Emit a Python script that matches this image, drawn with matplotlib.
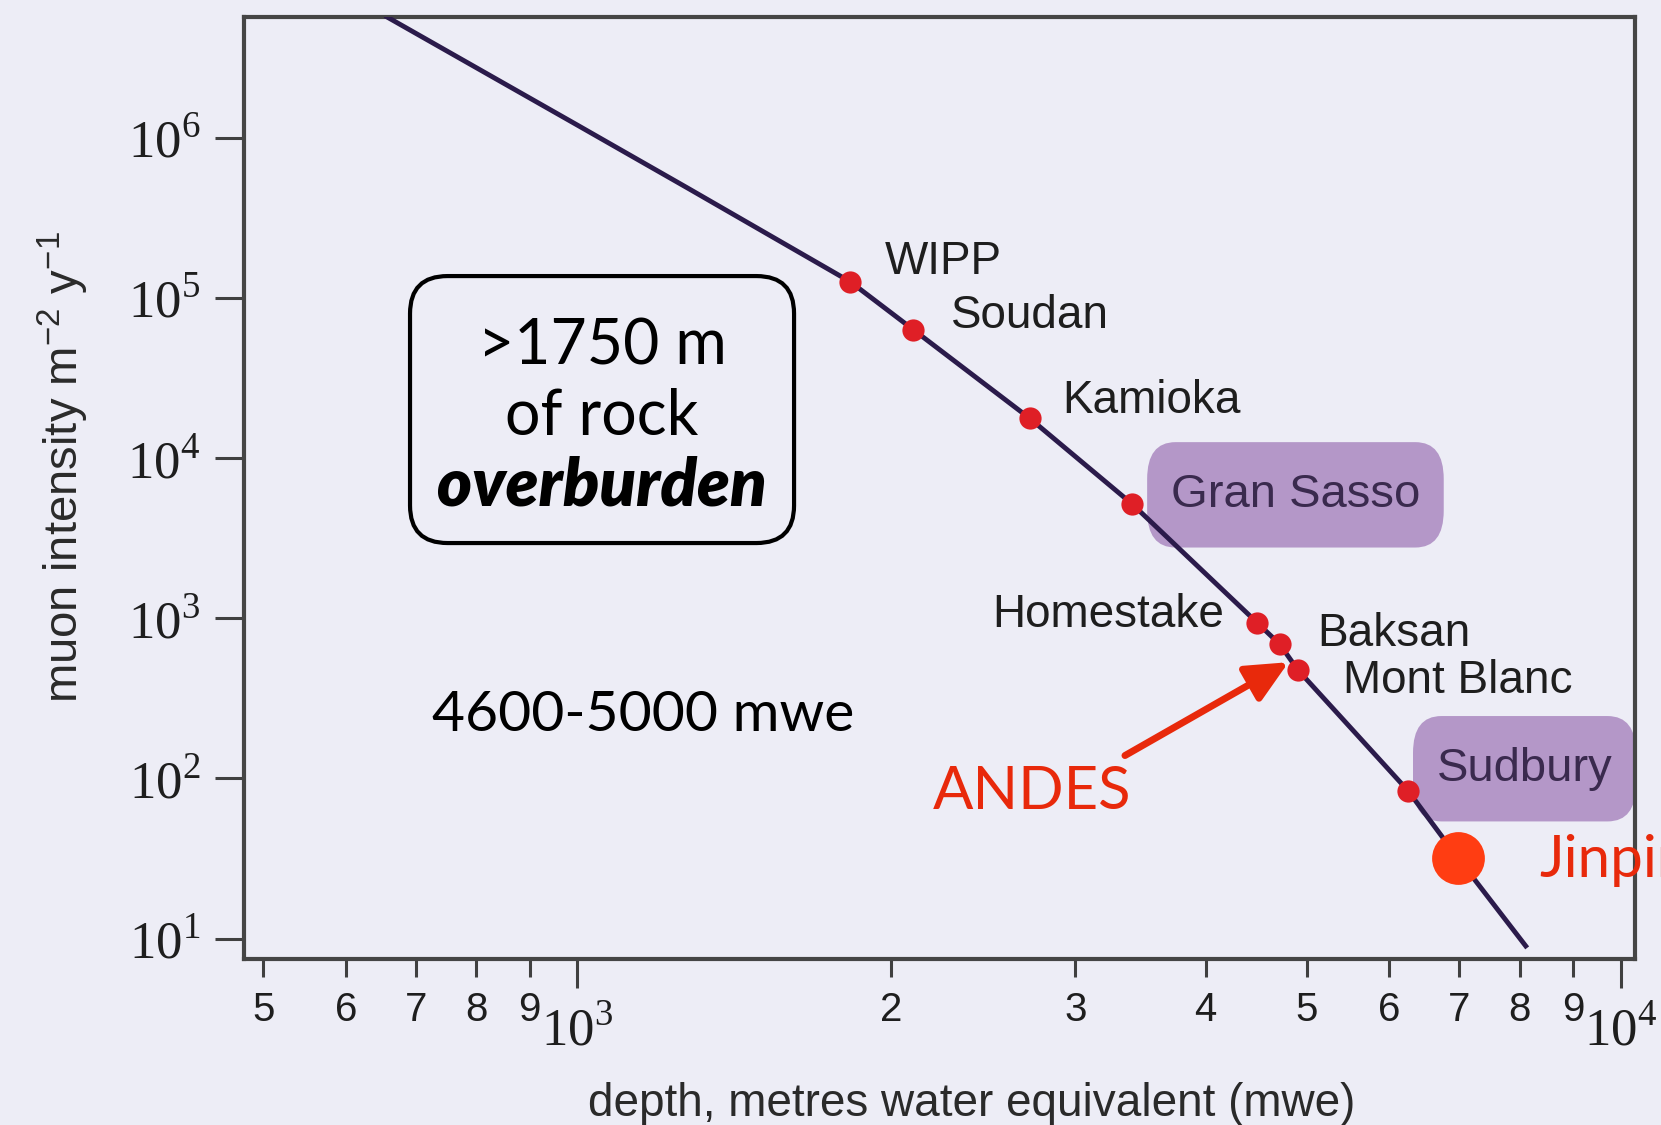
import numpy as np
import matplotlib
matplotlib.use("Agg")
import matplotlib.pyplot as plt
from matplotlib import ticker
from matplotlib.patches import FancyBboxPatch

# depth-intensity curve (mwe, muons m^-2 y^-1)
curve_depth = [657, 1000, 1278, 1827, 2098, 2714, 3404, 4485, 4710, 4901, 6251, 6978, 8107]
curve_intensity = [5.68e6, 1.2e6, 4.82e5, 1.26e5, 6.35e4, 1.77e4, 5150, 935, 690, 478, 84, 32, 9.0]

# underground labs
labs = ["WIPP", "Soudan", "Kamioka", "Gran Sasso", "Homestake", "Baksan", "Mont Blanc", "Sudbury"]
lab_depth = [1827, 2098, 2714, 3404, 4485, 4710, 4901, 6251]
lab_intensity = [1.26e5, 6.35e4, 1.77e4, 5150, 935, 690, 478, 84]
highlighted = ["Gran Sasso", "Sudbury"]

jinping_depth = 6978
jinping_intensity = 32

# label placement (data coords) and alignment
label_x = [1970, 2283, 2917, 3704, 4163, 5113, 5420, 6660]
label_y = [1.68e5, 7.74e4, 2.29e4, 5900, 1056, 803, 405, 115]
label_ha = ["left", "left", "left", "left", "right", "left", "left", "left"]

andes_tip = (4804, 532)
andes_tail = (3348, 139)

BG = "#EDEDF6"
LINE = "#2B1B4B"
RED = "#DF1F26"
ORANGE = "#FF3D12"
TXTRED = "#E8290B"
PURPLE = "#B497C8"

sans = "Liberation Sans"
gill = "Lato"

plt.rcParams["font.family"] = [sans, "DejaVu Sans"]
plt.rcParams["mathtext.fontset"] = "custom"
plt.rcParams["mathtext.rm"] = "Liberation Serif"
plt.rcParams["mathtext.sf"] = sans

fig = plt.figure(figsize=(16.61, 11.25), dpi=100, facecolor=BG)
ax = fig.add_axes([0.1467, 0.1478, 0.8374, 0.8371], facecolor=BG)

ax.set_xscale("log")
ax.set_yscale("log")
ax.set_xlim(478.8, 10309)
ax.set_ylim(7.49, 5.68e6)

# curve and lab markers
ax.plot(curve_depth, curve_intensity, color=LINE, lw=3.5, zorder=3)
ax.plot(lab_depth, lab_intensity, "o", color=RED, ms=16, mec="none", zorder=4)
ax.plot(jinping_depth, jinping_intensity, "o", color=ORANGE, ms=38, mec="none", zorder=5)

for name, tx, ty, ha in zip(labs, label_x, label_y, label_ha):
    if name in highlighted:
        ax.text(tx, ty, name, fontsize=34, color="#3A2A4E", ha=ha, va="center",
                zorder=2, bbox=dict(boxstyle="round,pad=0.5,rounding_size=0.6",
                                    fc=PURPLE, ec="none", mutation_aspect=1.3))
    else:
        ax.text(tx, ty, name, fontsize=33, color="#1E1E1E", ha=ha, va="center", zorder=6)

ax.text(8357, 30.8, "Jinping", fontsize=42, color=TXTRED, family=gill,
        ha="left", va="center", zorder=6)

# ANDES arrow
ax.annotate("", xy=andes_tip, xytext=andes_tail,
            arrowprops=dict(arrowstyle="-|>,head_length=0.85,head_width=0.4",
                            color=TXTRED, lw=5, mutation_scale=30,
                            shrinkA=0, shrinkB=0), zorder=6)
ax.text(2189, 81.8, "ANDES", fontsize=43, color=TXTRED, family=gill,
        ha="left", va="center")

ax.text(726, 248, "4600-5000 mwe", fontsize=41, color="black", family=gill,
        ha="left", va="center")

# overburden box
box = FancyBboxPatch((0.1196, 0.4414), 0.3957 - 0.1196, 0.7249 - 0.4414,
                     boxstyle="round,pad=0,rounding_size=0.027",
                     mutation_aspect=1.477, transform=ax.transAxes,
                     fc="none", ec="black", lw=3, zorder=6)
ax.add_patch(box)
ax.text(0.2576, 0.650, ">1750 m", transform=ax.transAxes, fontsize=45,
        family=gill, ha="center", va="center")
ax.text(0.2576, 0.575, "of rock", transform=ax.transAxes, fontsize=45,
        family=gill, ha="center", va="center")
ax.text(0.2576, 0.502, "overburden", transform=ax.transAxes, fontsize=48,
        family=gill, weight="heavy", style="italic", ha="center", va="center")

# axes styling
def log_fmt(v, pos):
    e = int(np.floor(np.log10(v) + 1e-9))
    m = v / 10 ** e
    if abs(m - 1) < 1e-6:
        return r"$10^{%d}$" % e
    return "%d" % round(m)

ax.xaxis.set_major_locator(ticker.LogLocator(base=10, numticks=10))
ax.xaxis.set_minor_locator(ticker.LogLocator(base=10, subs=np.arange(2, 10), numticks=20))
ax.xaxis.set_major_formatter(ticker.FuncFormatter(log_fmt))
ax.xaxis.set_minor_formatter(ticker.FuncFormatter(log_fmt))
ax.yaxis.set_major_locator(ticker.LogLocator(base=10, numticks=10))
ax.yaxis.set_minor_locator(ticker.NullLocator())
ax.yaxis.set_major_formatter(ticker.FuncFormatter(log_fmt))

ax.tick_params(axis="both", which="both", direction="out", color="#404040",
               width=2.2, labelcolor="#1E1E1E")
ax.tick_params(axis="x", which="major", length=21, labelsize=38, pad=13)
ax.tick_params(axis="x", which="minor", length=13, labelsize=29, pad=10)
ax.tick_params(axis="y", which="major", length=21, labelsize=38, pad=10)

for s in ax.spines.values():
    s.set_linewidth(3)
    s.set_color("#454545")

ax.set_xlabel("depth, metres water equivalent (mwe)", fontsize=33, color="#2A2A2A",
              labelpad=19)
ax.xaxis.label.set_x(0.5236)
ax.set_ylabel(r"muon intensity m$^{\mathsf{-2}}$ y$^{\mathsf{-1}}$", fontsize=34,
              color="#2A2A2A", labelpad=26)
ax.yaxis.label.set_y(0.5225)

fig.savefig("out.png", dpi=100, facecolor=BG)
